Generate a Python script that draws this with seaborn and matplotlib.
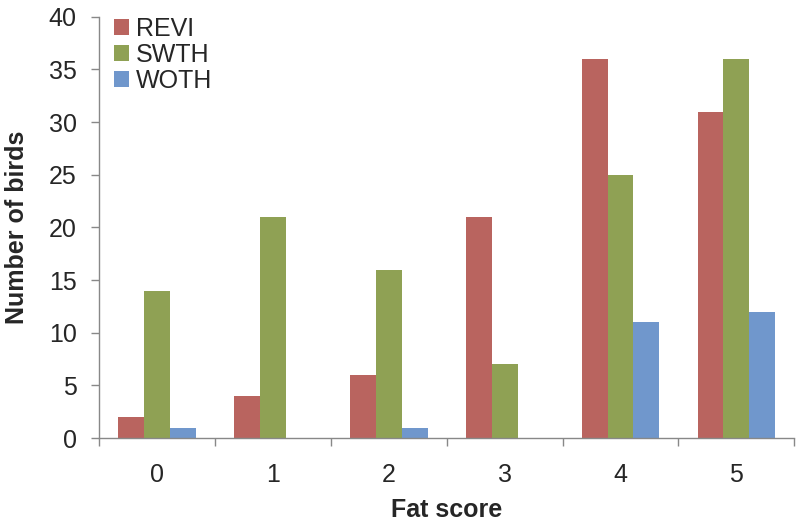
import pandas as pd
import numpy as np
import matplotlib
matplotlib.use("Agg")
import matplotlib.pyplot as plt
import seaborn as sns

sns.set_style("white")
plt.rcParams['font.family'] = ['Liberation Sans', 'DejaVu Sans']

# data
fat_scores = ["0", "1", "2", "3", "4", "5"]
revi = [2, 4, 6, 21, 36, 31]
swth = [14, 21, 16, 7, 25, 36]
woth = [1, 0, 1, 0, 11, 12]
species = ["REVI", "SWTH", "WOTH"]
colors = ["#B9645F", "#8FA154", "#7097CC"]

df = pd.DataFrame({"Fat score": fat_scores, "REVI": revi, "SWTH": swth, "WOTH": woth})
long = df.melt(id_vars="Fat score", var_name="Species", value_name="Count")

fig = plt.figure(figsize=(8.02, 5.26), dpi=100)
ax = fig.add_axes([0.1234, 0.167, 0.867, 0.801])

sns.barplot(data=long, x="Fat score", y="Count", hue="Species", hue_order=species,
            palette=colors, width=0.67, gap=0, saturation=1, linewidth=0, ax=ax)

ax.set_xlim(-0.5, 5.5)
ax.set_ylim(0, 40)
ax.set_yticks(range(0, 41, 5))

# tick marks between categories, labels at centres
ax.set_xticks(np.arange(-0.5, 6, 1), minor=True)
ax.tick_params(axis="x", which="major", length=0, labelsize=18, pad=18)
ax.tick_params(axis="x", which="minor", length=6, width=1, color="#888888", direction="out", bottom=True)
ax.tick_params(axis="y", which="major", length=6, width=1, color="#888888", direction="out", left=True, labelsize=18, pad=10)

for side in ["top", "right"]:
    ax.spines[side].set_visible(False)
for side in ["left", "bottom"]:
    ax.spines[side].set_color("#888888")
    ax.spines[side].set_linewidth(1)

ax.set_xlabel("Fat score", fontsize=18, fontweight="bold", labelpad=8)
ax.set_ylabel("Number of birds", fontsize=18, fontweight="bold", labelpad=14)

leg = ax.legend(loc="upper left", bbox_to_anchor=(0.021, 1.0), frameon=False, fontsize=18,
                handlelength=0.6, handleheight=0.6, handletextpad=0.3, labelspacing=0.08,
                borderaxespad=0, borderpad=0, title=None)

fig.savefig("out.png", dpi=100)
